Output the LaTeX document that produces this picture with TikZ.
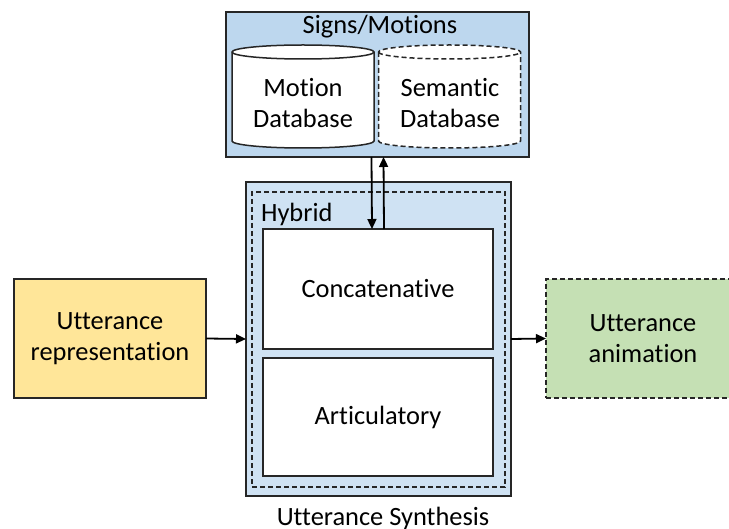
\documentclass[tikz,border=0pt]{standalone}
\usepackage{fontspec}
\setmainfont{Carlito}[Ligatures=NoCommon]
\usepackage{tikz}
\usetikzlibrary{arrows.meta}
\usetikzlibrary{positioning}
\definecolor{signblue}{HTML}{BDD7EE}
\definecolor{synthblue}{HTML}{CFE2F3}
\definecolor{inyellow}{HTML}{FFE699}
\definecolor{outgreen}{HTML}{C5E0B4}
\tikzset{
	box/.style={rectangle, draw=black!85, line width=0.75pt, outer sep=0pt, inner sep=0pt, align=center},
	drum/.style={draw=black!85, fill=white, line width=0.75pt},
	dash2/.style={dash pattern=on 2.5pt off 1.5pt},
	arr/.style={-{Triangle[length=5pt,width=4.5pt]}, line width=0.9pt},
}
\begin{document}
\begin{tikzpicture}[x=0.5pt, y=-0.5pt, font=\fontsize{13.2}{15.5}\selectfont]
	\useasboundingbox (0,0) rectangle (729,529);
	\clip (0,0) rectangle (729,529);
	\node[box, fill=signblue, minimum width=151.5pt, minimum height=72.5pt] (signs) at (377.5, 84.5) {};
	\node (signslbl) at (380, 27) {Signs/Motions};
	\foreach \cx/\sty in {303/solid, 449.5/dash2}{
		\draw[drum, \sty] (\cx-71, 52) -- (\cx-71, 141)
			arc[start angle=180, end angle=360, x radius=35.5pt, y radius=3.5pt]
			-- (\cx+71, 52)
			arc[start angle=0, end angle=180, x radius=35.5pt, y radius=3.5pt] -- cycle;
		\draw[drum, \sty, fill=none] (\cx-71, 52)
			arc[start angle=180, end angle=360, x radius=35.5pt, y radius=3.5pt];
	}
	\node (motionlbl) at (303, 103) [align=center] {Motion\\Database};
	\node (semlbl) at (450, 103) [align=center] {Semantic\\Database};
	\node[box, fill=synthblue, line width=1.3pt, minimum width=132.5pt, minimum height=157pt] (synth) at (378.5, 339) {};
	\node[box, dash2, minimum width=126.5pt, minimum height=147.5pt] (hybrid) at (378.5, 339.5) {};
	\node[anchor=west] (hybridlbl) at (254, 214) {Hybrid};
	\node[box, fill=white, minimum width=115pt, minimum height=60pt] (concat) at (378, 289) {Concatenative};
	\node[box, fill=white, minimum width=115pt, minimum height=59pt] (artic) at (378, 417) {Articulatory};
	\node[box, fill=inyellow, minimum width=96pt, minimum height=59.5pt] (uttrep) at (110, 338.5) {Utterance\\representation};
	\node[box, dash2, fill=outgreen, minimum width=95pt, minimum height=59.5pt] (uttanim) at (641, 338.5) {};
	\node (animlbl) at (643, 338.5) [align=center] {Utterance\\animation};
	\node (synthlbl) at (383, 518) {Utterance Synthesis};
	\draw[arr] ([xshift=-3pt]signs.south) -- ([xshift=-3pt]concat.north);
	\draw[arr] ([xshift=3pt]concat.north) -- ([xshift=3pt]signs.south);
	\draw[arr] (uttrep.east) -- (synth.west);
	\draw[arr] (synth.east) -- (uttanim.west);
\end{tikzpicture}
\end{document}
